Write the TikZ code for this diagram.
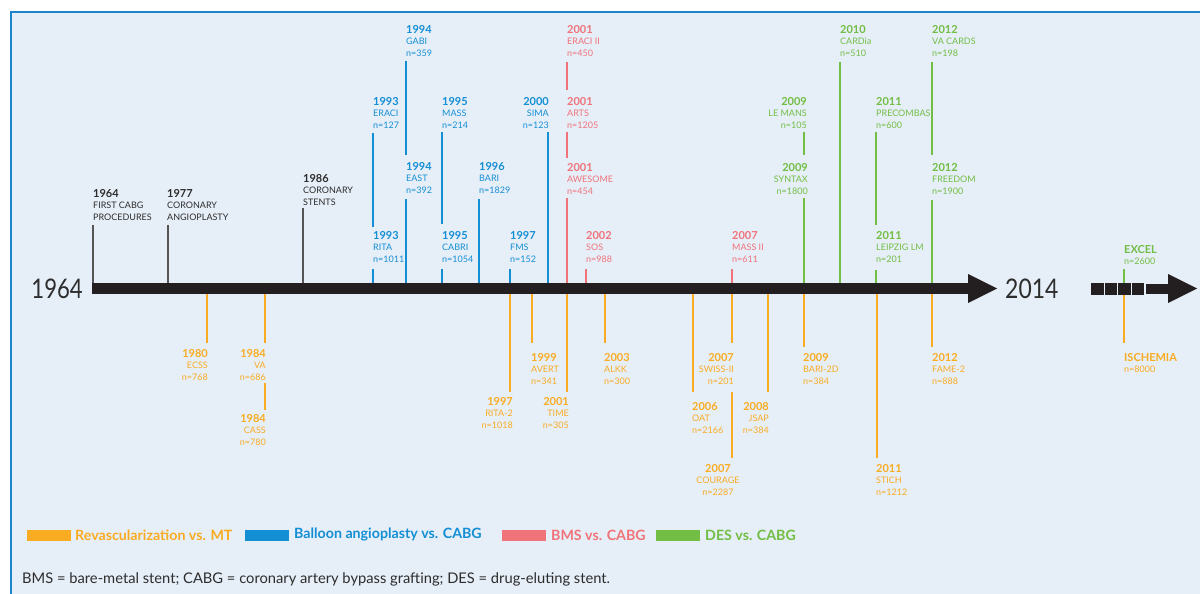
\documentclass[tikz,border=0pt]{standalone}
\usepackage{fontspec}
\setmainfont{Lato}
\definecolor{bgc}{RGB}{230,238,248}
\definecolor{borderc}{RGB}{30,132,202}
\definecolor{cdark}{RGB}{45,45,45}
\definecolor{cgray}{RGB}{85,85,85}
\definecolor{cblue}{RGB}{20,143,212}
\definecolor{cred}{RGB}{240,115,122}
\definecolor{cgreen}{RGB}{114,190,68}
\definecolor{corange}{RGB}{249,172,34}
\definecolor{barc}{RGB}{35,31,32}
\newcommand\yr{\fontsize{11}{11.5}\selectfont\bfseries}
\newcommand\ev[6]{\node[lab,#1,text=#4] (#2) at (#3) {{\yr #5}\\#6};}
\newcommand\stem[4]{\draw[stemline,#1] (#2,#3) -- (#2,#4);}
\begin{document}
\begin{tikzpicture}[x=1pt,y=-1pt,
  lab/.style={inner sep=0pt,font=\fontsize{9}{11.5}\selectfont},
  labL/.style={anchor=north west,align=left},
  labR/.style={anchor=north east,align=right},
  labC/.style={anchor=north,align=center},
  stemline/.style={line width=1.8pt},
  legtext/.style={anchor=west,inner sep=0pt,font=\fontsize{14.2}{16}\selectfont\bfseries},
  bigyear/.style={inner sep=0pt,font=\fontsize{27}{27}\selectfont,text=cdark}]
\useasboundingbox (0,0) rectangle (1200,594);
\fill[white] (0,0) rectangle (1200,594);
\fill[bgc] (11,12) rectangle (1200,594);
\draw[borderc,line width=2.2pt] (11,594) -- (11,12) -- (1200,12);

% ---- stems above axis ----
\stem{cgray,line width=1.3pt}{93}{225}{284}
\stem{cgray,line width=1.3pt}{168}{225}{284}
\stem{cgray,line width=1.3pt}{303}{208}{284}
\stem{cblue}{373}{133}{227}
\stem{cblue}{373}{269}{284}
\stem{cblue}{406}{61}{155}
\stem{cblue}{406}{199}{284}
\stem{cblue}{442}{132}{224}
\stem{cblue}{442}{269}{284}
\stem{cblue}{479}{199}{284}
\stem{cblue}{510}{269}{284}
\stem{cblue}{548}{132}{284}
\stem{cred}{567}{62}{90}
\stem{cred}{567}{132}{158}
\stem{cred}{567}{198}{284}
\stem{cred}{586}{269}{284}
\stem{cred}{732}{269}{284}
\stem{cgreen}{804}{132}{155}
\stem{cgreen}{804}{198}{284}
\stem{cgreen}{840}{62}{284}
\stem{cgreen}{876}{132}{225}
\stem{cgreen}{876}{270}{284}
\stem{cgreen}{932}{62}{155}
\stem{cgreen}{932}{200}{284}
\stem{cgreen}{1124}{269}{284}
% ---- stems below axis ----
\stem{corange}{207}{293}{343}
\stem{corange}{265}{293}{343}
\stem{corange}{265}{383}{410}
\stem{corange}{510}{293}{392}
\stem{corange}{532}{293}{343}
\stem{corange}{567}{293}{392}
\stem{corange}{605}{293}{343}
\stem{corange}{693}{293}{392}
\stem{corange}{732}{293}{343}
\stem{corange}{732}{392}{458}
\stem{corange}{768}{293}{392}
\stem{corange}{804}{293}{347}
\stem{corange}{877}{293}{458}
\stem{corange}{932}{293}{347}
\stem{corange}{1124}{293}{343}

% ---- axis ----
\fill[barc] (92,283) rectangle (969,294);
\fill[barc] (968,274) -- (997,288.5) -- (968,303) -- cycle;
\foreach \i in {0,1,2,3}{\fill[barc] (1091+13.6*\i,283) rectangle +(12.6,12);}
\fill[barc] (1146,284) rectangle (1169,294);
\fill[barc] (1168,274) -- (1197,288.5) -- (1168,303) -- cycle;
\node[bigyear,anchor=base east] (start) at (83,298) {\scalebox{0.82}[1]{1964}};
\node[bigyear,anchor=base west] (end) at (1005,298) {\scalebox{0.85}[1]{2014}};

% ---- labels above ----
\ev{labL}{e1964}{93,189}{cdark}{1964}{FIRST CABG\\PROCEDURES}
\ev{labL}{e1977}{167,189}{cdark}{1977}{CORONARY\\ANGIOPLASTY}
\ev{labL}{e1986}{303,174}{cdark}{1986}{CORONARY\\STENTS}
\ev{labL}{eraci}{373,97}{cblue}{1993}{ERACI\\n=127}
\ev{labL}{rita}{373,231}{cblue}{1993}{RITA\\n=1011}
\ev{labL}{gabi}{406,25}{cblue}{1994}{GABI\\n=359}
\ev{labL}{east}{406,162}{cblue}{1994}{EAST\\n=392}
\ev{labL}{mass}{442,97}{cblue}{1995}{MASS\\n=214}
\ev{labL}{cabri}{442,231}{cblue}{1995}{CABRI\\n=1054}
\ev{labL}{bari}{479,162}{cblue}{1996}{BARI\\n=1829}
\ev{labL}{fms}{510,231}{cblue}{1997}{FMS\\n=152}
\ev{labR}{sima}{549,97}{cblue}{2000}{SIMA\\n=123}
\ev{labL}{eracii}{567,25}{cred}{2001}{ERACI II\\n=450}
\ev{labL}{arts}{567,97}{cred}{2001}{ARTS\\n=1205}
\ev{labL}{awesome}{567,163}{cred}{2001}{AWESOME\\n=454}
\ev{labL}{sos}{586,231}{cred}{2002}{SOS\\n=988}
\ev{labL}{massii}{732,231}{cred}{2007}{MASS II\\n=611}
\ev{labR}{lemans}{807,97}{cgreen}{2009}{LE MANS\\n=105}
\ev{labR}{syntax}{808,163}{cgreen}{2009}{SYNTAX\\n=1800}
\ev{labL}{cardia}{840,25}{cgreen}{2010}{CARDia\\n=510}
\ev{labL}{precombas}{876,97}{cgreen}{2011}{PRECOMBAS\\n=600}
\ev{labL}{leipzig}{876,231}{cgreen}{2011}{LEIPZIG LM\\n=201}
\ev{labL}{vacards}{932,25}{cgreen}{2012}{VA CARDS\\n=198}
\ev{labL}{freedom}{932,163}{cgreen}{2012}{FREEDOM\\n=1900}
\ev{labL}{excel}{1124,245}{cgreen}{EXCEL}{n=2600}

% ---- labels below ----
\ev{labR}{ecss}{208,349}{corange}{1980}{ECSS\\n=768}
\ev{labR}{va}{266,349}{corange}{1984}{VA\\n=686}
\ev{labR}{cass}{266,414}{corange}{1984}{CASS\\n=780}
\ev{labR}{rita2}{513,397}{corange}{1997}{RITA-2\\n=1018}
\ev{labL}{avert}{531,353}{corange}{1999}{AVERT\\n=341}
\ev{labR}{time}{569,397}{corange}{2001}{TIME\\n=305}
\ev{labL}{alkk}{604,353}{corange}{2003}{ALKK\\n=300}
\ev{labL}{oat}{692,402}{corange}{2006}{OAT\\n=2166}
\ev{labR}{swiss}{734,353}{corange}{2007}{SWISS-II\\n=201}
\ev{labC}{courage}{718,464}{corange}{2007}{COURAGE\\n=2287}
\ev{labR}{jsap}{769,402}{corange}{2008}{JSAP\\n=384}
\ev{labL}{bari2d}{803,353}{corange}{2009}{BARI-2D\\n=384}
\ev{labL}{stich}{876,464}{corange}{2011}{STICH\\n=1212}
\ev{labL}{fame}{932,353}{corange}{2012}{FAME-2\\n=888}
\ev{labL}{ischemia}{1124,353}{corange}{ISCHEMIA}{n=8000}

% ---- legend ----
\fill[corange] (27,529.5) rectangle (71,541);
\node[legtext,text=corange] (lg1) at (75,535) {Revascularization vs. MT};
\fill[cblue] (245,529.5) rectangle (289,541);
\node[legtext,text=cblue] (lg2) at (294,535) {Balloon angioplasty vs. CABG};
\fill[cred] (502,529.5) rectangle (546,541);
\node[legtext,text=cred] (lg3) at (551,535) {BMS vs. CABG};
\fill[cgreen] (656,529.5) rectangle (700,541);
\node[legtext,text=cgreen] (lg4) at (705,535) {DES vs. CABG};

\node[anchor=base west,inner sep=0pt,font=\fontsize{14.7}{16}\selectfont,text=cdark] (foot) at (22,583)
  {BMS = bare-metal stent; CABG = coronary artery bypass grafting; DES = drug-eluting stent.};
\end{tikzpicture}
\end{document}
